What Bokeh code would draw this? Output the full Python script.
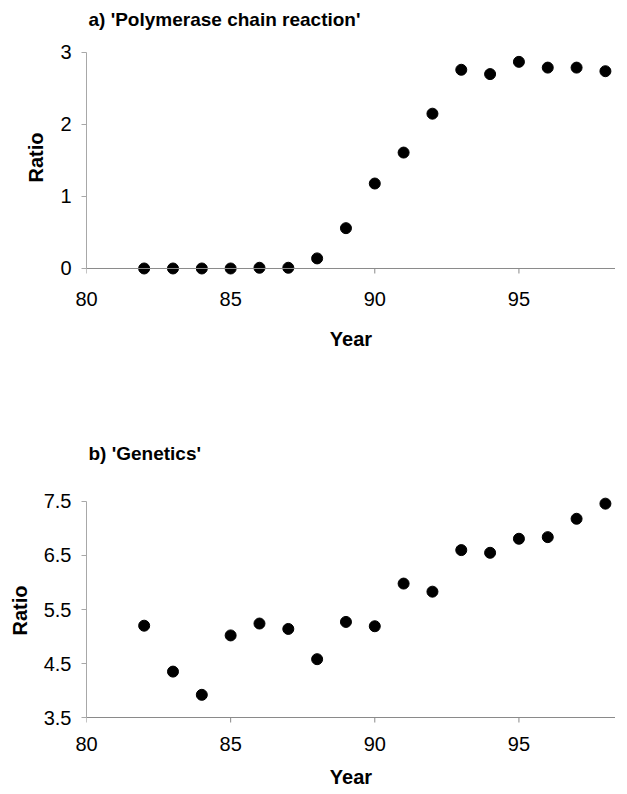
from bokeh.plotting import figure
from bokeh.layouts import column
from bokeh.models import FixedTicker, Range1d, ColumnDataSource, Span
from bokeh.embed import file_html
from bokeh.resources import INLINE

# ---- data ----
years = [82, 83, 84, 85, 86, 87, 88, 89, 90, 91, 92, 93, 94, 95, 96, 97, 98]
pcr_ratio = [0.0, 0.0, 0.0, 0.0, 0.01, 0.01, 0.14, 0.56, 1.18, 1.61, 2.15,
             2.76, 2.70, 2.87, 2.79, 2.79, 2.74]
genetics_ratio = [5.20, 4.35, 3.92, 5.02, 5.24, 5.14, 4.58, 5.27, 5.19, 5.98,
                  5.83, 6.60, 6.55, 6.81, 6.84, 7.18, 7.46]
x_ticks = [80, 85, 90, 95]
pcr_ticks = [0, 1, 2, 3]
genetics_ticks = [3.5, 4.5, 5.5, 6.5, 7.5]
title_a = "a) 'Polymerase chain reaction'"
title_b = "b) 'Genetics'"
x_label = "Year"
y_label = "Ratio"

FONT = "Liberation Sans"
FRAME_W = 529


def make_panel(title, ys, yticks, y_rng, base, frame_h, b_top, b_bottom,
               title_standoff, tick_standoff, xlabel_standoff):
    src = ColumnDataSource(dict(year=years, ratio=ys))
    p = figure(frame_width=FRAME_W, frame_height=frame_h,
               x_range=Range1d(80, 98.35), y_range=Range1d(*y_rng),
               output_backend="svg", toolbar_location=None,
               min_border_left=86, min_border_right=0,
               min_border_top=b_top, min_border_bottom=b_bottom,
               title=title)
    p.outline_line_color = None
    p.grid.visible = False
    p.background_fill_color = "white"
    p.border_fill_color = "white"

    p.title.text_font = FONT
    p.title.text_font_size = "19px"
    p.title.text_font_style = "bold"
    p.title.text_color = "black"
    p.title.align = "left"
    p.title.offset = 2
    p.title.standoff = title_standoff

    # x axis: line drawn at the base value, labels below the frame
    xa = p.xaxis[0]
    xa.ticker = FixedTicker(ticks=x_ticks)
    xa.axis_line_color = None
    xa.major_tick_line_color = None
    xa.minor_tick_line_color = None
    xa.major_tick_in = 0
    xa.major_tick_out = 0
    xa.major_label_standoff = tick_standoff
    xa.major_label_text_font = FONT
    xa.major_label_text_font_size = "20px"
    xa.major_label_text_color = "black"
    xa.axis_label = x_label
    xa.axis_label_text_font = FONT
    xa.axis_label_text_font_size = "20px"
    xa.axis_label_text_font_style = "bold"
    xa.axis_label_text_color = "black"
    xa.axis_label_standoff = xlabel_standoff

    p.add_layout(Span(location=base, dimension="width",
                      line_color="#8a8a8a", line_width=1))
    tick_len = 5 * (y_rng[1] - y_rng[0]) / frame_h
    p.segment(x0=x_ticks, y0=[base] * len(x_ticks),
              x1=x_ticks, y1=[base - tick_len] * len(x_ticks),
              line_color="#8a8a8a", line_width=1)

    ya = p.yaxis[0]
    ya.ticker = FixedTicker(ticks=yticks)
    ya.bounds = (yticks[0], yticks[-1])
    ya.axis_line_color = "#a8a8a8"
    ya.major_tick_line_color = "#a8a8a8"
    ya.minor_tick_line_color = None
    ya.major_tick_in = 0
    ya.major_tick_out = 5
    ya.major_label_standoff = 10
    ya.major_label_text_font = FONT
    ya.major_label_text_font_size = "20px"
    ya.major_label_text_color = "black"
    ya.axis_label = y_label
    ya.axis_label_text_font = FONT
    ya.axis_label_text_font_size = "20px"
    ya.axis_label_text_font_style = "bold"
    ya.axis_label_text_color = "black"
    ya.axis_label_standoff = 10

    p.scatter("year", "ratio", source=src, size=11, color="black")
    return p


pa = make_panel(title_a, pcr_ratio, pcr_ticks, (-0.153, 3.236), 0,
                244, 35, 90, 12, 12, 19)
pb = make_panel(title_b, genetics_ratio, genetics_ticks, (3.315, 7.648), 3.5,
                234, 124, 58, 60, 9, 12)

layout = column(pa, pb)
open("out.html", "w").write(file_html(layout, INLINE))
